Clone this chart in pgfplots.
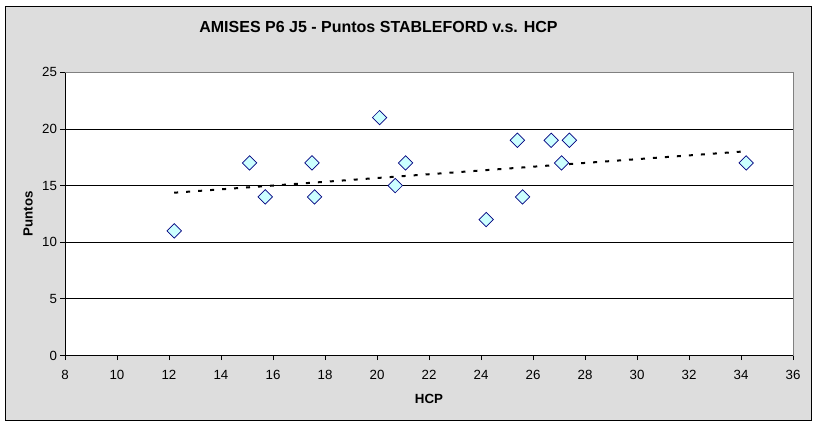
\documentclass[border=0pt]{standalone}
\usepackage{pgfplots}
\pgfplotsset{compat=1.18}
\usepackage{fontspec}
\setmainfont{Liberation Sans}
\definecolor{bgray}{RGB}{221,221,221}
\definecolor{mfill}{RGB}{204,255,255}
\definecolor{medge}{RGB}{0,0,128}
\begin{document}
\begin{tikzpicture}
\useasboundingbox (0,0) rectangle (817pt,426pt);
\fill[white] (0,0) rectangle (817pt,426pt);
\draw[black, line width=1pt, fill=bgray] (5.5pt,5.5pt) rectangle (811pt,419pt);
\node[font=\bfseries\fontsize{16}{18}\selectfont] at (378.5pt,399pt) {AMISES P6 J5 - Puntos STABLEFORD v.s. HCP};
\begin{axis}[
  at={(65pt,70.5pt)}, anchor=south west,
  scale only axis, width=728pt, height=283.2pt,
  xmin=8, xmax=36, ymin=0, ymax=25,
  xtick distance=2, ytick distance=5,
  axis x line=bottom, axis y line=left,
  axis line style={-, black, line width=0.8pt},
  axis background/.style={fill=white},
  ymajorgrids, grid style={black, line width=0.8pt},
  tick align=outside, major tick length=4.5pt,
  tick style={black, line width=0.8pt},
  /pgf/number format/assume math mode=true,
  tick label style={font=\fontsize{13.3}{15}\selectfont},
  xticklabel style={yshift=-7pt},
  xlabel={HCP}, ylabel={Puntos},
  label style={font=\bfseries\fontsize{13.3}{15}\selectfont},
  xlabel style={at={(axis description cs:0.5,-0.152)}, anchor=center},
  ylabel style={at={(axis description cs:-0.0508,0.5)}, anchor=center},
  clip=false,
]
\addplot[only marks, mark=square*, mark size=5.1pt,
  mark options={rotate=45, fill=mfill, draw=medge, line width=0.7pt}]
  coordinates {
  (12.2,11) (15.1,17) (15.7,14) (17.5,17) (17.6,14) (20.1,21) (20.7,15)
  (21.1,17) (24.2,12) (25.4,19) (25.6,14) (26.7,19) (27.1,17) (27.4,19) (34.2,17)
  };
\addplot[black, line width=2pt, dash pattern=on 4pt off 8pt, mark=none]
  coordinates {(12.2,14.37) (34.2,18.03)};
\draw[gray, line width=0.8pt] (rel axis cs:0,1) -- (rel axis cs:1,1) -- (rel axis cs:1,0);
\end{axis}
\end{tikzpicture}
\end{document}
